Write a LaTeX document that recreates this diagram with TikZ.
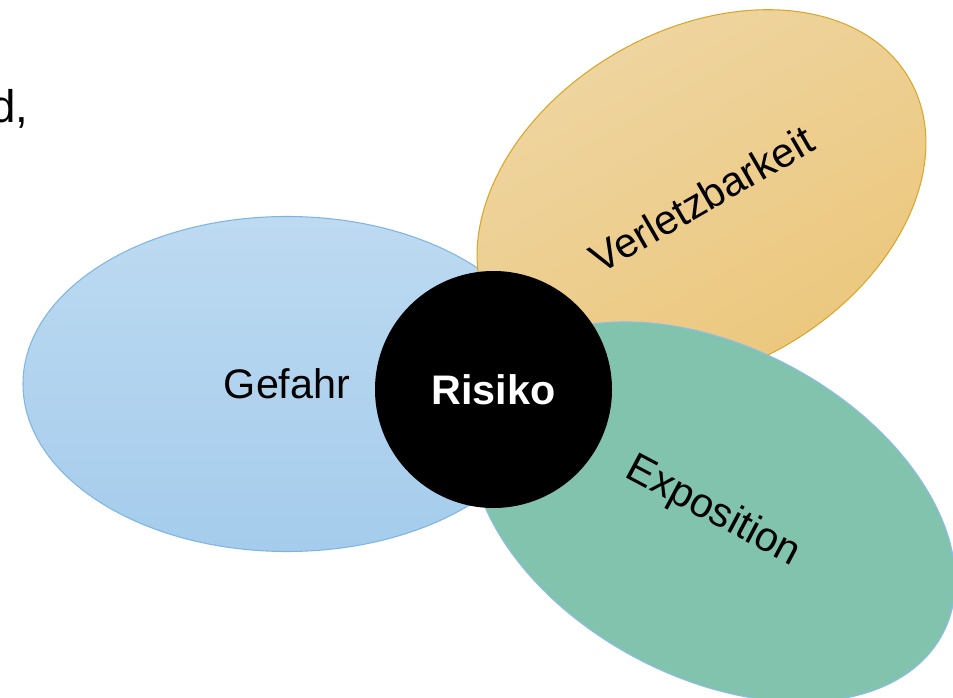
\documentclass[tikz,border=0pt]{standalone}
\usepackage{fontspec}
\setmainfont{Liberation Sans}
\usepackage{tikz}
\usetikzlibrary{shapes.geometric}
\usepackage{xcolor}

\definecolor{gefahrtop}{HTML}{BDDAF1}
\definecolor{gefahrbot}{HTML}{A5CCEC}
\definecolor{gefahrline}{HTML}{7FB6E1}
\definecolor{verltop}{HTML}{EED6A4}
\definecolor{verlbot}{HTML}{ECC679}
\definecolor{verlline}{HTML}{DAA62A}
\definecolor{expofill}{HTML}{82C3AE}
\definecolor{expoline}{HTML}{8CBDE8}

\begin{document}
\begin{tikzpicture}[
        font=\fontsize{23.5pt}{28pt}\selectfont,
        petal/.style={
            ellipse,
            line width=0.6pt,
            inner sep=0pt,
            text centered
        },
        core/.style={
            circle,
            fill=black,
            text=white,
            inner sep=0pt,
            minimum size=4.74cm,
            font=\fontsize{23.5pt}{28pt}\selectfont\bfseries
        }
    ]

    \useasboundingbox (0,0) rectangle (19.06,13.94);
    \clip (0,0) rectangle (19.06,13.94);

    % cut-off text from the slide
    \node [anchor=base east, inner sep=0pt, font=\fontsize{26pt}{30pt}\selectfont] (rest) at (0.58,11.48) {d,};

    % Nodes
    \node [petal, draw=gefahrline, top color=gefahrtop, bottom color=gefahrbot,
           minimum width=10.56cm, minimum height=6.70cm] (gefahr) at (5.74,6.26) {Gefahr};
    \node [petal, draw=verlline, top color=verltop, bottom color=verlbot, shading angle=30,
           minimum width=9.60cm, minimum height=6.76cm, rotate=30] (verletz) at (14.03,9.96) {Verletzbarkeit};
    \node [petal, draw=expoline, fill=expofill,
           minimum width=10.4cm, minimum height=6.6cm, rotate=-28] (expo) at (14.26,3.70) {Exposition};

    % center
    \node [core] (risiko) at (9.87,6.15) {Risiko};

\end{tikzpicture}
\end{document}
